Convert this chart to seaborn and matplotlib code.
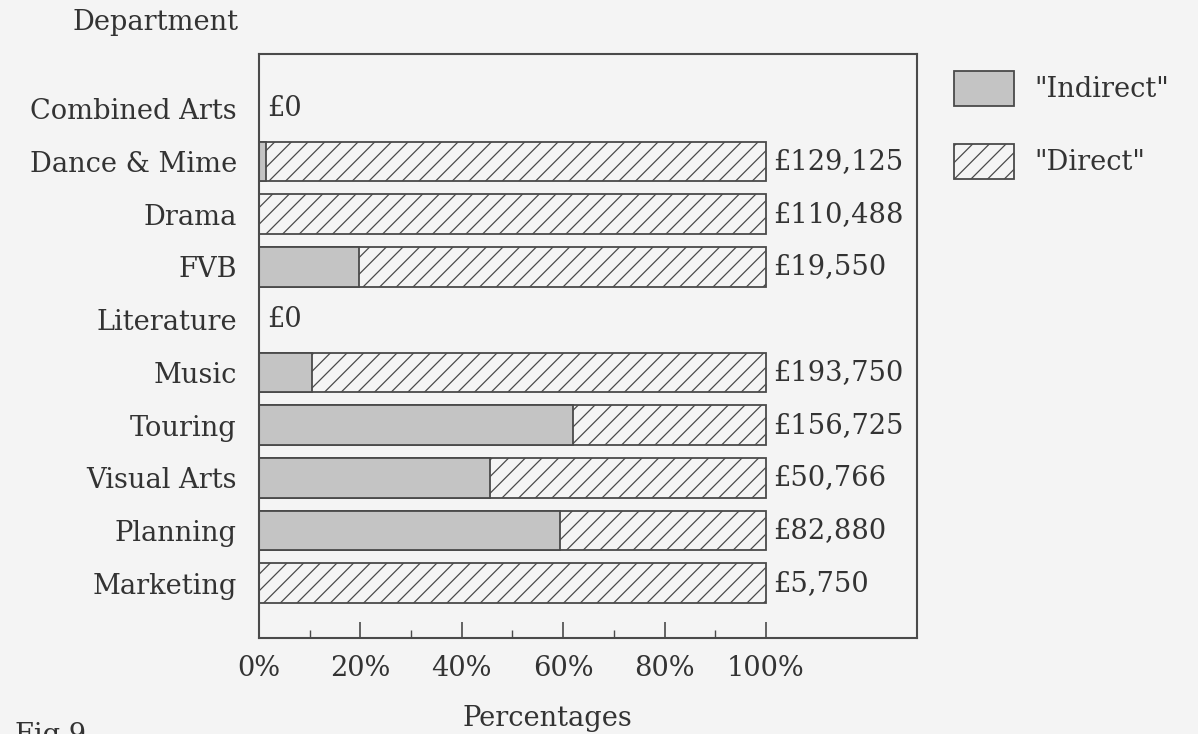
import matplotlib
matplotlib.use("Agg")
import matplotlib.pyplot as plt
import matplotlib.patches as mpatches
import numpy as np
import pandas as pd
import seaborn as sns

# Departments, top to bottom
departments = ["Combined Arts", "Dance & Mime", "Drama", "FVB", "Literature",
               "Music", "Touring", "Visual Arts", "Planning", "Marketing"]
# Total spend per department (GBP)
totals = [0, 129125, 110488, 19550, 0, 193750, 156725, 50766, 82880, 5750]
# Share of each department's spend that is "Indirect" (%)
indirect_pct = [0, 1.3, 0, 19.8, 0, 10.4, 61.9, 45.5, 59.3, 0]
# Axis tick labels
xticks = [0, 20, 40, 60, 80, 100]
xtick_labels = ["0%", "20%", "40%", "60%", "80%", "100%"]

BG = "#f4f4f4"
INK = "#333333"
LINE = "#4a4a4a"
GREY = "#c4c4c4"

sns.set_theme(style="ticks")
plt.rcParams["font.family"] = ["DejaVu Serif"]
plt.rcParams.update({
    "figure.facecolor": BG,
    "axes.facecolor": BG,
    "savefig.facecolor": BG,
    "text.color": INK,
    "axes.labelcolor": INK,
    "xtick.color": LINE,
    "ytick.color": INK,
    "xtick.labelcolor": INK,
    "ytick.labelcolor": INK,
    "axes.edgecolor": LINE,
    "hatch.linewidth": 0.9,
    "hatch.color": LINE,
})

df = pd.DataFrame({
    "department": departments,
    "total": totals,
    "indirect": indirect_pct,
})
df["whole"] = np.where(df["total"] > 0, 100.0, 0.0)

fig = plt.figure(figsize=(11.98, 7.34), dpi=100)
ax = fig.add_axes([259 / 1198, 1 - 638 / 734, (917 - 259) / 1198, (638 - 54) / 734])

FS = 19.6

# Full-width hatched bar ("Direct"), then the indirect share drawn over it
sns.barplot(data=df, x="whole", y="department", order=departments, orient="h",
            color=BG, saturation=1, width=0.75, edgecolor=LINE, linewidth=1.3,
            hatch="//", ax=ax)
sns.barplot(data=df, x="indirect", y="department", order=departments, orient="h",
            color=GREY, saturation=1, width=0.75, edgecolor=LINE,
            linewidth=1.3, ax=ax)

# Value labels
for i, (tot, whole) in enumerate(zip(df["total"], df["whole"])):
    label = f"£{tot:,}"
    if whole > 0:
        ax.text(whole + 1.4, i, label, ha="left", va="center", fontsize=FS, color=INK)
    else:
        ax.text(1.6, i, label, ha="left", va="center", fontsize=FS, color=INK)

ax.set_xlim(0, 129.8)
ax.set_ylim(len(departments) - 1 + 1.04, -1.04)
ax.set_xticks(xticks)
ax.set_xticklabels(xtick_labels, fontsize=FS)
ax.set_xticks([10, 30, 50, 70, 90], minor=True)
ax.tick_params(axis="x", which="major", direction="in", length=11.5, width=1.2, pad=12)
ax.tick_params(axis="x", which="minor", direction="in", length=5.8, width=1.0)
ax.tick_params(axis="y", length=0, pad=16, labelsize=FS)
for s in ax.spines.values():
    s.set_visible(True)
    s.set_linewidth(1.5)
    s.set_color(LINE)

ax.set_ylabel("")
ax.set_xlabel("Percentages", fontsize=FS)
ax.xaxis.set_label_coords((547 - 259) / (917 - 259), -0.114)

fig.text(239 / 1198, 1 - 23 / 734, "Department", ha="right", va="center", fontsize=FS)
fig.text(15 / 1198, 1 - 722 / 734, "Fig 9", ha="left", va="top", fontsize=FS)

handles = [
    mpatches.Patch(facecolor=GREY, edgecolor=LINE, linewidth=1.3, label='"Indirect"'),
    mpatches.Patch(facecolor=BG, edgecolor=LINE, linewidth=1.3, hatch="//", label='"Direct"'),
]
fig.legend(handles=handles, loc="upper left",
           bbox_to_anchor=(954 / 1198, 1 - 71 / 734),
           frameon=False, fontsize=FS, handlelength=2.2, handleheight=1.6,
           handletextpad=0.74, labelspacing=1.4, borderpad=0, borderaxespad=0)

fig.savefig("out.png", dpi=100)
